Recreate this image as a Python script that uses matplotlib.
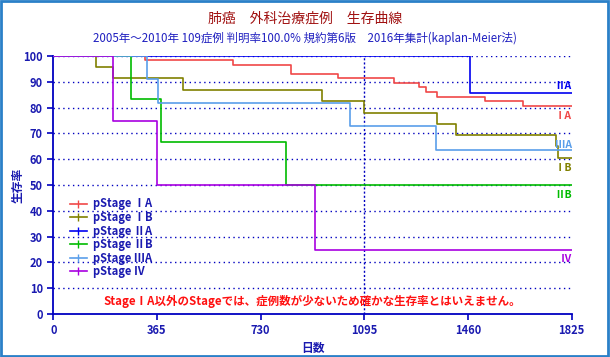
import matplotlib
matplotlib.use("Agg")
import matplotlib.pyplot as plt
from matplotlib.lines import Line2D
from matplotlib.patches import Rectangle

plt.rcParams['font.family'] = ['Noto Sans CJK JP', 'DejaVu Sans']

# ============================================================
# DATA (days, survival %)
# ============================================================

stage_labels = ['pStage ⅠA', 'pStage ⅠB', 'pStage ⅡA', 'pStage ⅡB', 'pStage ⅢA', 'pStage Ⅳ']
end_labels = ['ⅠA', 'ⅠB', 'ⅡA', 'ⅡB', 'ⅢA', 'Ⅳ']
end_label_y = [76.9, 56.5, 88.2, 46.3, 65.6, 21.5]

t_IA = [0, 322, 632, 837, 1002, 1200, 1287, 1313, 1351, 1520, 1655, 1825]
s_IA = [100, 98.4, 96.4, 92.9, 91.3, 89.4, 87.8, 85.9, 84.3, 82.4, 80.8, 80.8]

t_IB = [0, 149, 210, 457, 947, 1093, 1351, 1418, 1771, 1777, 1825]
s_IB = [100, 95.6, 91.3, 86.8, 82.4, 78.1, 73.8, 69.3, 65.0, 60.6, 60.6]

t_IIA = [0, 1467, 1825]
s_IIA = [100, 85.7, 85.7]

t_IIB = [0, 272, 378, 820, 1825]
s_IIB = [100, 83.3, 66.7, 50.0, 50.0]

t_IIIA = [0, 330, 368, 1044, 1347, 1825]
s_IIIA = [100, 90.9, 81.8, 72.7, 63.6, 63.6]

t_IV = [0, 209, 364, 921, 1825]
s_IV = [100, 75, 50, 25, 25]

xticks = [0, 365, 730, 1095, 1460, 1825]
yticks = list(range(0, 101, 10))

# ============================================================
# STYLE
# ============================================================

colors = ['#F04848', '#808000', '#0000F0', '#00BB00', '#5A9EEA', '#A800E0']
AXC = '#0000C0'
TXT = '#1A1AB0'

series = [
    (t_IA, s_IA),
    (t_IB, s_IB),
    (t_IIA, s_IIA),
    (t_IIB, s_IIB),
    (t_IIIA, s_IIIA),
    (t_IV, s_IV),
]

# ============================================================
# PLOT
# ============================================================

fig = plt.figure(figsize=(6.10, 3.57), dpi=100)
ax = fig.add_axes([0.0874, 0.1204, 0.8498, 0.7227])

for yv in yticks[1:]:
    ax.axhline(yv, color=AXC, linestyle=(0, (1, 2.5)), linewidth=1.0, zorder=1)
ax.axvline(1095, color=AXC, linestyle=(0, (1.5, 1.5)), linewidth=1.0, zorder=1)

for (t, s), c in zip(series, colors):
    ax.step(t, s, where='post', color=c, linewidth=1.2, zorder=3)

for lab, yv, c in zip(end_labels, end_label_y, colors):
    ax.text(1825, yv, lab, color=c, fontsize=7.5, fontweight='bold',
            ha='right', va='center', zorder=4)

ax.set_xlim(0, 1825)
ax.set_ylim(0, 100)
ax.set_xticks(xticks)
ax.set_yticks(yticks)

for side in ['top', 'right']:
    ax.spines[side].set_visible(False)
for side in ['left', 'bottom']:
    ax.spines[side].set_color(AXC)
    ax.spines[side].set_linewidth(1.3)

ax.tick_params(colors=AXC, labelcolor=TXT, length=4, width=1.2, labelsize=8)
for lbl in ax.get_xticklabels() + ax.get_yticklabels():
    lbl.set_fontweight('bold')

ax.set_xlabel('日数', color=TXT, fontsize=8.5, fontweight='bold', labelpad=3)
ax.set_ylabel('生存率', color=TXT, fontsize=8.5, fontweight='bold')
ax.yaxis.set_label_coords(-0.056, 0.5)

handles = [Line2D([0], [0], color=c, linewidth=1.2, marker='|', markersize=6)
           for c in colors]
leg = ax.legend(handles, stage_labels, loc='upper left', bbox_to_anchor=(0.032, 0.452),
                frameon=False, fontsize=8, handlelength=1.5, handletextpad=0.6,
                labelspacing=0.05, borderpad=0, borderaxespad=0, numpoints=1)
for txt in leg.get_texts():
    txt.set_color(TXT)
    txt.set_fontweight('bold')

ax.text(0.5, 0.048, 'StageⅠA以外のStageでは、症例数が少ないため確かな生存率とはいえません。',
        transform=ax.transAxes, color='#FF1010', fontsize=8.3, fontweight='bold',
        ha='center', va='center')

fig.text(0.5, 0.948, '肺癌　外科治療症例　生存曲線', color='#A01010', fontsize=10,
         ha='center', va='center')
fig.text(0.5, 0.893, '2005年～2010年 109症例 判明率100.0% 規約第6版　2016年集計(kaplan-Meier法)',
         color='#2020C0', fontsize=8.3, ha='center', va='center')

fig.patches.append(Rectangle((0.001, 0.003), 0.996, 0.994, transform=fig.transFigure,
                             fill=False, edgecolor='#2A80C8', linewidth=2))

fig.savefig('out.png', dpi=100)
